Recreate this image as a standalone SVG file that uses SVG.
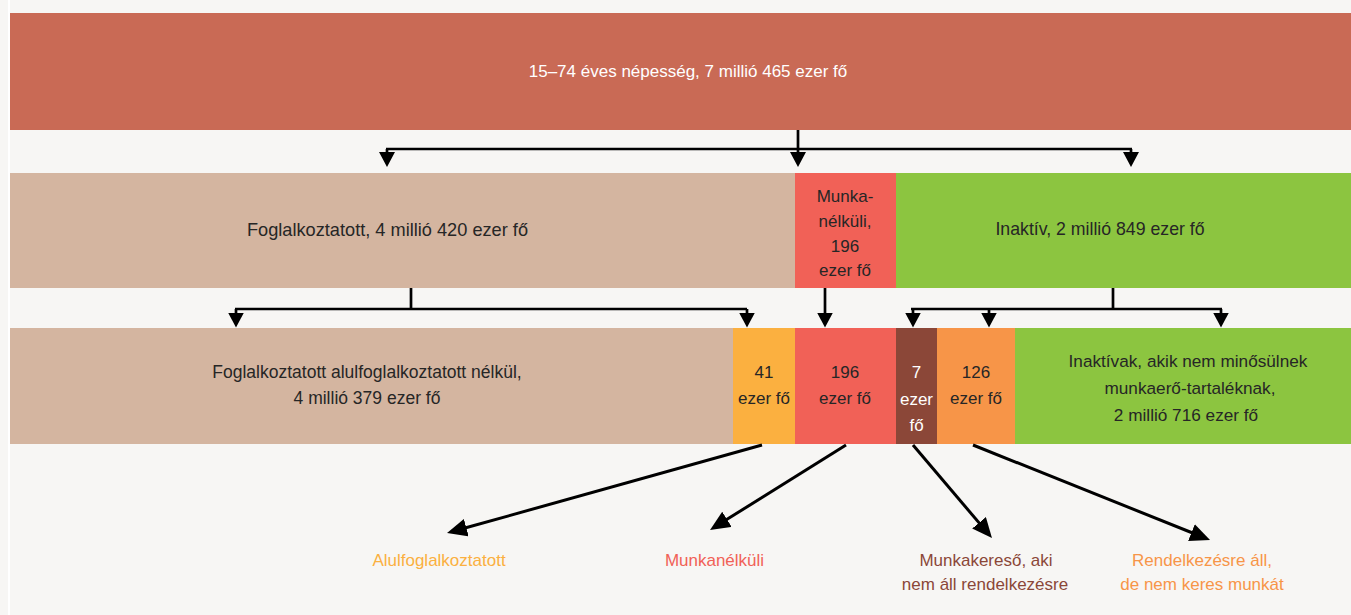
<svg xmlns="http://www.w3.org/2000/svg" width="1351" height="615" viewBox="0 0 1351 615">
<style>
text{font-family:"Liberation Sans",Arial,sans-serif;font-size:17px;fill:#262626;text-anchor:middle}
.w{fill:#ffffff}
.ln{stroke:#000;stroke-width:2.7;fill:none}
.ta{marker-end:url(#tri)}
.da{stroke-width:3;marker-end:url(#big)}
</style>
<defs>
<marker id="tri" markerUnits="userSpaceOnUse" viewBox="0 0 15 16" markerWidth="15" markerHeight="16" refX="5" refY="8" orient="auto"><path d="M0,0 L15,8 L0,16 z" fill="#000"/></marker>
<marker id="big" markerUnits="userSpaceOnUse" viewBox="0 0 20 18" markerWidth="20" markerHeight="18" refX="8" refY="9" orient="auto"><path d="M0,0 L20,9 L0,18 z" fill="#000"/></marker>
</defs>
<rect x="0" y="0" width="1351" height="615" fill="#f7f6f4"/>
<rect x="8" y="0" width="2" height="615" fill="#ffffff"/>

<g id="pop"><rect x="10" y="13" width="1341" height="117" fill="#c96a55"/><text class="w" x="688" y="77">15–74 éves népesség, 7 millió 465 ezer fő</text></g>

<g id="employed"><rect x="10" y="173" width="785" height="115" fill="#d4b5a0"/><text x="387.5" y="236" style="font-size:18.2px">Foglalkoztatott, 4 millió 420 ezer fő</text></g>
<g id="unemployed"><rect x="795" y="173" width="101" height="115" fill="#f16157"/><text x="845" y="202">Munka-</text><text x="845" y="227">nélküli,</text><text x="845" y="252">196</text><text x="845" y="276">ezer fő</text></g>
<g id="inactive"><rect x="896" y="173" width="455" height="115" fill="#8cc540"/><text x="1100" y="235" style="font-size:17.7px">Inaktív, 2 millió 849 ezer fő</text></g>

<g id="employed-full"><rect x="10" y="328" width="723" height="116" fill="#d4b5a0"/><text x="367" y="378" style="font-size:17.5px">Foglalkoztatott alulfoglalkoztatott nélkül,</text><text x="367" y="404" style="font-size:17.5px">4 millió 379 ezer fő</text></g>
<g id="underemployed"><rect x="733" y="328" width="62" height="116" fill="#fbb040"/><text x="764" y="378">41</text><text x="764" y="404">ezer fő</text></g>
<g id="unemployed2"><rect x="795" y="328" width="101" height="116" fill="#f16157"/><text x="845" y="378">196</text><text x="845" y="404">ezer fő</text></g>
<g id="seeker"><rect x="896" y="328" width="41" height="116" fill="#8b4738"/><text class="w" x="916.5" y="378">7</text><text class="w" x="916.5" y="405">ezer</text><text class="w" x="916.5" y="431">fő</text></g>
<g id="available"><rect x="937" y="328" width="78" height="116" fill="#f79548"/><text x="976" y="378">126</text><text x="976" y="404">ezer fő</text></g>
<g id="inactive2"><rect x="1015" y="328" width="336" height="116" fill="#8cc540"/><text x="1188" y="367" style="font-size:17.2px">Inaktívak, akik nem minősülnek</text><text x="1190" y="394" style="font-size:17.2px">munkaerő-tartaléknak,</text><text x="1186" y="421" style="font-size:17.2px">2 millió 716 ezer fő</text></g>

<g id="labels">
<text x="439" y="566" style="fill:#fbb040">Alulfoglalkoztatott</text>
<text x="714.5" y="566" style="fill:#f16157">Munkanélküli</text>
<text x="986" y="566" style="fill:#8b4738">Munkakereső, aki</text>
<text x="985" y="590" style="fill:#8b4738">nem áll rendelkezésre</text>
<text x="1202" y="566" style="fill:#f79548">Rendelkezésre áll,</text>
<text x="1202" y="590" style="fill:#f79548">de nem keres munkát</text>
</g>

<g id="connectors">
<line class="ln" x1="798" y1="130" x2="798" y2="149"/>
<line class="ln" x1="386" y1="149" x2="1132" y2="149"/>
<line class="ln ta" x1="387" y1="149" x2="387" y2="157"/>
<line class="ln ta" x1="798" y1="149" x2="798" y2="157"/>
<line class="ln ta" x1="1131" y1="149" x2="1131" y2="157"/>

<line class="ln" x1="411" y1="288" x2="411" y2="309"/>
<line class="ln" x1="235" y1="309" x2="747" y2="309"/>
<line class="ln ta" x1="236" y1="309" x2="236" y2="317.5"/>
<line class="ln ta" x1="747" y1="309" x2="747" y2="317.5"/>

<line class="ln ta" x1="825" y1="288" x2="825" y2="317.5"/>

<line class="ln" x1="1113" y1="288" x2="1113" y2="309"/>
<line class="ln" x1="911" y1="309" x2="1222" y2="309"/>
<line class="ln ta" x1="913" y1="309" x2="913" y2="317.5"/>
<line class="ln ta" x1="989" y1="309" x2="989" y2="317.5"/>
<line class="ln ta" x1="1221" y1="309" x2="1221" y2="317.5"/>

<line class="ln da" x1="762" y1="445" x2="458.6" y2="529.8"/>
<line class="ln da" x1="846" y1="445" x2="720.2" y2="523.6"/>
<line class="ln da" x1="913" y1="445" x2="984.2" y2="528.9"/>
<line class="ln da" x1="973" y1="445" x2="1198.9" y2="535.5"/>
</g>
</svg>
